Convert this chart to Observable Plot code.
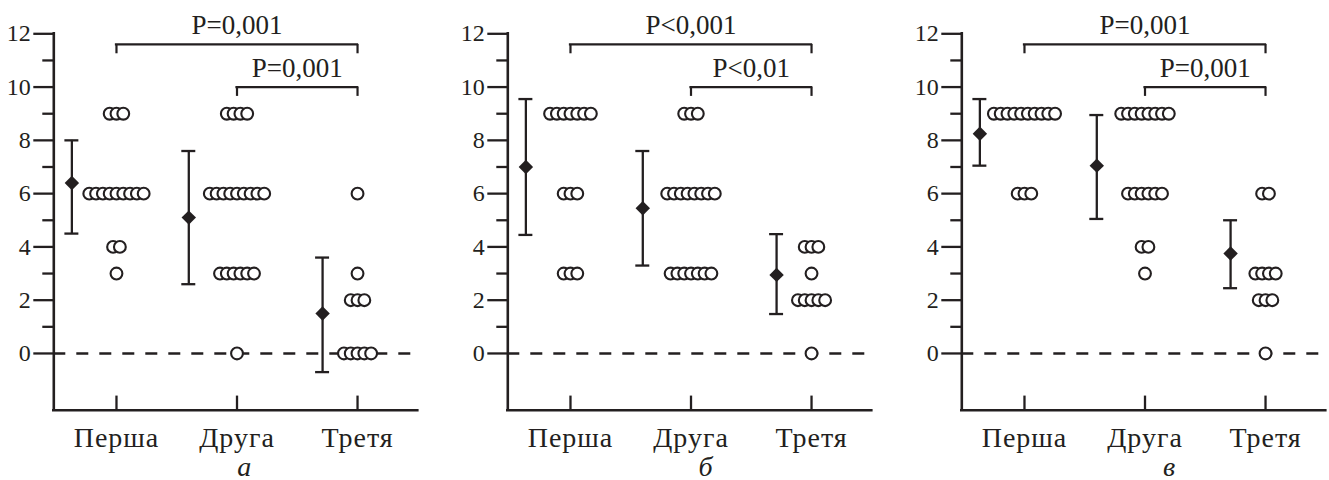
<!DOCTYPE html>
<html><head><meta charset="utf-8">
<script src="https://cdn.jsdelivr.net/npm/d3@7"></script>
<script src="https://cdn.jsdelivr.net/npm/@observablehq/plot@0.6"></script>
<style>
html,body{margin:0;padding:0;background:#fff;overflow:hidden;}
#row{display:flex;width:1362px;}
#row svg{flex:0 0 auto;max-width:none;}
#row svg text{font-family:'Liberation Serif','Times New Roman',serif !important;}
#row svg g[aria-label="x-axis tick label"] text{letter-spacing:1px;}
</style></head><body><div id="row"></div>
<script>
// ---------- data ----------
const groups = ["Перша", "Друга", "Третя"];
const panelLetters = ["а", "б", "в"];

// individual scores (one value per circle)
const a_first  = [9,9,9, 6,6,6,6,6,6,6,6,6, 4,4, 3];
const a_second = [9,9,9,9, 6,6,6,6,6,6,6,6,6, 3,3,3,3,3,3, 0];
const a_third  = [6, 3, 2,2,2, 0,0,0,0,0];
const b_first  = [9,9,9,9,9,9,9, 6,6,6, 3,3,3];
const b_second = [9,9,9, 6,6,6,6,6,6,6,6, 3,3,3,3,3,3,3];
const b_third  = [4,4,4, 3, 2,2,2,2,2, 0];
const v_first  = [9,9,9,9,9,9,9,9,9,9, 6,6,6];
const v_second = [9,9,9,9,9,9,9,9, 6,6,6,6,6,6, 4,4, 3];
const v_third  = [6,6, 3,3,3,3, 2,2,2, 0];

// mean and error-bar limits per group
const a_mean = [6.4, 5.1, 1.5],   a_low = [4.5, 2.6, -0.7], a_high = [8.0, 7.6, 3.6];
const b_mean = [7.0, 5.45, 2.95], b_low = [4.45, 3.3, 1.48], b_high = [9.55, 7.6, 4.48];
const v_mean = [8.25, 7.05, 3.75], v_low = [7.05, 5.05, 2.45], v_high = [9.55, 8.95, 5.0];

// significance labels: comparisons Перша–Третя and Друга–Третя
const comparisons = [[0, 2], [1, 2]];
const a_p = ["P=0,001", "P=0,001"];
const b_p = ["P<0,001", "P<0,01"];
const v_p = ["P=0,001", "P=0,001"];

const yMajorTicks = [0, 2, 4, 6, 8, 10, 12];
const yMinorTicks = [1, 3, 5, 7, 9, 11];

// ---------- layout / style ----------
const X_DOMAIN = [-0.52, 2.5];
const Y_DOMAIN = [-2.13, 12];
const DOT_STEP = 0.0564;          // horizontal step between stacked circles (x units)
const MEAN_SHIFT = [0.37, 0.40, 0.29];
const CAP = 0.058;
const BRACKET_LEVELS = [11.6, 10.0];
const BRACKET_DROP = 0.35;
const LETTER_X = [1.06, 1.12, 1.2];
const INK = "#231f20";
const FONT = "'Liberation Serif', 'Times New Roman', serif";

function layoutDots(scores, gi) {
  const rows = d3.rollups(scores, v => v.length, d => d);
  const out = [];
  for (const [val, n] of rows)
    for (let k = 0; k < n; k++) out.push({x: gi + (k - (n - 1) / 2) * DOT_STEP, y: val});
  return out;
}

function panel(pi, scores, mean, low, high, pLabels) {
  const dots = scores.flatMap((s, gi) => layoutDots(s, gi));
  const stats = groups.map((g, i) => ({x: i - MEAN_SHIFT[i], mean: mean[i], lo: low[i], hi: high[i]}));
  const brackets = pLabels.map((t, i) => ({from: comparisons[i][0], to: comparisons[i][1], level: BRACKET_LEVELS[i], text: t}));
  return Plot.plot({
    width: 454, height: 495,
    marginLeft: 53.3, marginRight: 36.7, marginTop: 33.3, marginBottom: 85.3,
    x: {domain: X_DOMAIN},
    y: {domain: Y_DOMAIN},
    style: {fontFamily: FONT, color: INK, background: "#fff", overflow: "visible"},
    marks: [
      Plot.ruleY([0], {x1: X_DOMAIN[0], x2: X_DOMAIN[1], stroke: INK, strokeWidth: 2.4, strokeDasharray: "12,11"}),
      Plot.ruleX([X_DOMAIN[0]], {y1: Y_DOMAIN[0], y2: 12, stroke: INK, strokeWidth: 2.6, strokeLinecap: "square"}),
      Plot.ruleY([Y_DOMAIN[0]], {x1: X_DOMAIN[0], x2: X_DOMAIN[1], stroke: INK, strokeWidth: 2.6, strokeLinecap: "square"}),
      Plot.axisY({ticks: yMajorTicks, tickSize: 20, tickPadding: 3, fontSize: 24, fontFamily: FONT, color: INK, strokeWidth: 2.3}),
      Plot.axisY({ticks: yMinorTicks, tickSize: 11, text: null, color: INK, strokeWidth: 2.3}),
      Plot.ruleX([0, 1, 2], {y1: Y_DOMAIN[0], y2: Y_DOMAIN[0] + 0.53, stroke: INK, strokeWidth: 2.3}),
      Plot.axisX({ticks: [0, 1, 2], tickFormat: i => groups[i], tickSize: 0, tickPadding: 17, fontSize: 28, fontFamily: FONT, color: INK}),
      Plot.ruleX(stats, {x: "x", y1: "lo", y2: "hi", stroke: INK, strokeWidth: 2.3}),
      Plot.ruleY(stats, {y: "lo", x1: d => d.x - CAP, x2: d => d.x + CAP, stroke: INK, strokeWidth: 2.3}),
      Plot.ruleY(stats, {y: "hi", x1: d => d.x - CAP, x2: d => d.x + CAP, stroke: INK, strokeWidth: 2.3}),
      Plot.dot(stats, {x: "x", y: "mean", symbol: "diamond2", r: 6.5, fill: INK, stroke: "none"}),
      Plot.dot(dots, {x: "x", y: "y", r: 5.9, fill: "#fff", stroke: INK, strokeWidth: 2.1}),
      Plot.ruleY(brackets, {y: "level", x1: "from", x2: "to", stroke: INK, strokeWidth: 2.2, strokeLinecap: "square"}),
      Plot.ruleX(brackets, {x: "from", y1: "level", y2: d => d.level - BRACKET_DROP, stroke: INK, strokeWidth: 2.2}),
      Plot.ruleX(brackets, {x: "to", y1: "level", y2: d => d.level - BRACKET_DROP, stroke: INK, strokeWidth: 2.2}),
      Plot.text(brackets, {x: d => (d.from + d.to) / 2, y: "level", text: "text", dy: -10, lineAnchor: "bottom", fontSize: 27, fontFamily: FONT, fill: INK}),
      Plot.text([panelLetters[pi]], {x: LETTER_X[pi], frameAnchor: "bottom", text: d => d, dy: 66, lineAnchor: "bottom", fontSize: 28, fontStyle: "italic", fontFamily: FONT, fill: INK})
    ]
  });
}

const row = document.getElementById("row");
row.append(panel(0, [a_first, a_second, a_third], a_mean, a_low, a_high, a_p));
row.append(panel(1, [b_first, b_second, b_third], b_mean, b_low, b_high, b_p));
row.append(panel(2, [v_first, v_second, v_third], v_mean, v_low, v_high, v_p));
</script>
</body></html>
